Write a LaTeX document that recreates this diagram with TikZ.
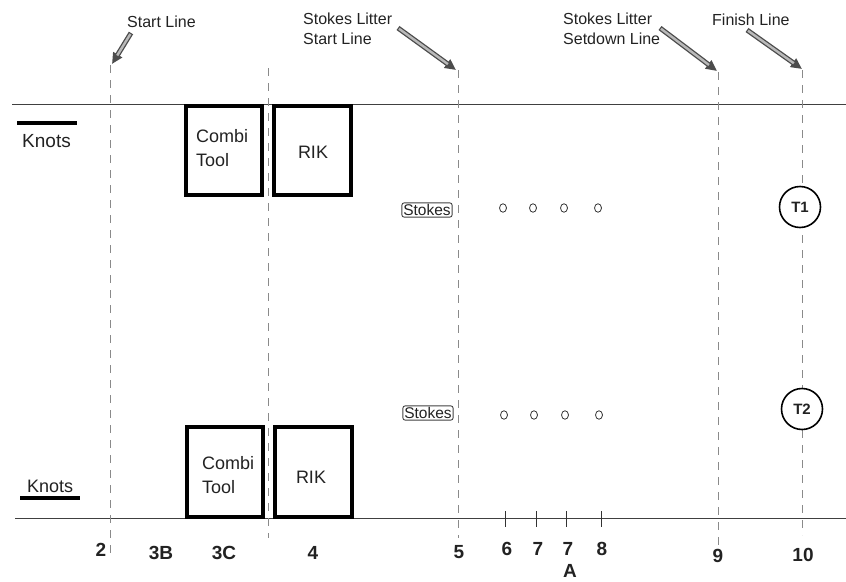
\documentclass[tikz,border=0pt]{standalone}
\usepackage{fontspec}
\setmainfont{Liberation Sans}
\usetikzlibrary{arrows.meta,calc}
\definecolor{ink}{HTML}{222222}
\definecolor{dashc}{HTML}{8A8A8A}
\tikzset{
  lbl/.style={inner sep=0pt, text=ink, font=\fontsize{16}{20}\selectfont, align=left},
  num/.style={inner sep=0pt, text=ink, font=\fontsize{19}{22}\selectfont\bfseries, anchor=base},
  bigbox/.style={draw=black, line width=4pt, inner sep=0pt},
  boxtxt/.style={inner sep=0pt, text=ink, font=\fontsize{18}{24}\selectfont, align=left},
  dline/.style={draw=dashc, line width=0.8pt, dash pattern=on 8pt off 7pt},
  hline/.style={draw=black!75, line width=1pt},
  stokesbox/.style={draw=black!75, rounded corners=2.5pt, inner xsep=1.5pt, inner ysep=1.5pt, line width=0.9pt, text=ink, font=\fontsize{15.5}{17}\selectfont},
  dot/.style={ellipse, draw=black!80, line width=0.8pt, minimum width=7pt, minimum height=8.5pt, inner sep=0pt},
  tcirc/.style={circle, draw=black, line width=1.6pt, fill=white, minimum size=41pt, inner sep=0pt, text=ink, font=\fontsize{15}{16}\selectfont\bfseries},
  arrowout/.style={draw=black!70, line width=5pt, -{Stealth[length=11pt,width=10pt,inset=0pt]}},
  arrowin/.style={draw=gray!55, line width=2.4pt, line cap=butt},
  knotbar/.style={draw=black, line width=4pt},
}
\usetikzlibrary{shapes.geometric}
\begin{document}
\begin{tikzpicture}[x=1pt,y=-1pt]
\useasboundingbox (0,0) rectangle (846,581);

% horizontal lines
\coordinate (tl0) at (12,104); \coordinate (tl1) at (846,104);
\coordinate (bl0) at (15,518); \coordinate (bl1) at (846,518);
\draw[hline] (tl0) -- (tl1);
\draw[hline] (bl0) -- (bl1);

% dashed vertical lines
\coordinate (d1a) at (110,65);  \coordinate (d1b) at (110,553);
\coordinate (d2a) at (268,68);  \coordinate (d2b) at (268,538);
\coordinate (d3a) at (458,70);  \coordinate (d3b) at (458,538);
\coordinate (d4a) at (718,72);  \coordinate (d4b) at (718,548);
\coordinate (d5a) at (802,70);  \coordinate (d5b) at (802,535);
\foreach \i in {1,...,5} \draw[dline] (d\i a) -- (d\i b);

% ticks
\foreach \n/\x in {k1/505,k2/536,k3/566,k4/601}{
  \coordinate (\n a) at (\x,511); \coordinate (\n b) at (\x,527);
  \draw[draw=black!80, line width=0.9pt] (\n a) -- (\n b);
}

% arrows
\foreach \n/\tx/\ty/\hx/\hy in {a1/131/33/112/64, a2/398/28/456/70, a3/660/28/717/71, a4/747/30/802/69}{
  \coordinate (\n t) at (\tx,\ty); \coordinate (\n h) at (\hx,\hy);
  \draw[arrowout] (\n t) -- (\n h);
  \draw[arrowin] ($(\n t)!1.2pt!(\n h)$) -- ($(\n h)!10pt!(\n t)$);
}

% top labels
\node[lbl, anchor=base west] (startl) at (127,27) {Start Line};
\node[lbl, anchor=north west] (sls) at (303,13) {Stokes Litter\\Start Line};
\node[lbl, anchor=north west] (slsd) at (563,13) {Stokes Litter\\Setdown Line};
\node[lbl, anchor=base west] (fin) at (712,25) {Finish Line};

% knots
\coordinate (kb1a) at (17,123); \coordinate (kb1b) at (77,123);
\draw[knotbar] (kb1a) -- (kb1b);
\node[inner sep=0pt, text=ink, font=\fontsize{19}{20}\selectfont, anchor=base west] (knots1) at (22,147) {Knots};
\coordinate (kb2a) at (20,498); \coordinate (kb2b) at (80,498);
\draw[knotbar] (kb2a) -- (kb2b);
\node[inner sep=0pt, text=ink, font=\fontsize{18}{20}\selectfont, anchor=base west] (knots2) at (27,492) {Knots};

% boxes top
\draw[bigbox] (186,106) rectangle (262,195);
\draw[bigbox] (274,106) rectangle (351,195);
\node[boxtxt, anchor=north west] (ct1) at (196,129) {Combi\\Tool};
\node[boxtxt] (rik1) at (313,152) {RIK};

% boxes bottom
\draw[bigbox] (187,427) rectangle (263,517);
\draw[bigbox] (275,427) rectangle (352,517);
\node[boxtxt, anchor=north west] (ct2) at (202,456) {Combi\\Tool};
\node[boxtxt] (rik2) at (311,477) {RIK};

% stokes
\node[stokesbox] (st1) at (427,210) {Stokes};
\node[stokesbox] (st2) at (428,413) {Stokes};

% dots
\foreach \n/\x in {o1/503,o2/533,o3/564,o4/598} \node[dot] (\n t) at (\x,208) {};
\foreach \n/\x in {o1/504,o2/534,o3/565,o4/599} \node[dot] (\n b) at (\x,415) {};

% T circles
\node[tcirc] (t1) at (800,207) {T1};
\node[tcirc] (t2) at (802,409) {T2};

% bottom numbers
\node[num] (n2) at (101,556) {2};
\node[num] (n3b) at (161,559) {3B};
\node[num] (n3c) at (224,559) {3C};
\node[num] (n4) at (313,559) {4};
\node[num] (n5) at (459,558) {5};
\node[num] (n6) at (507,555) {6};
\node[num] (n7) at (538,555) {7};
\node[num] (n7a) at (568,555) {7};
\node[num] (na) at (570,577) {A};
\node[num] (n8) at (602,555) {8};
\node[num] (n9) at (718,562) {9};
\node[num] (n10) at (803,561) {10};
\end{tikzpicture}
\end{document}
